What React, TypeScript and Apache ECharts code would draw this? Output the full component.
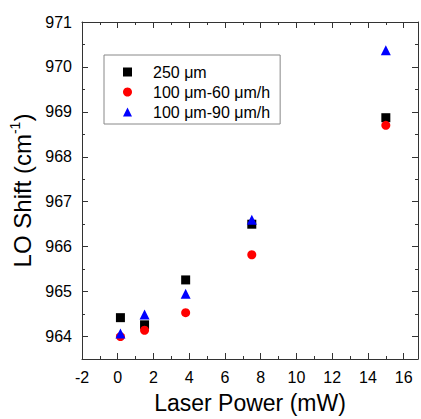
import React, { useEffect, useRef } from "react";
import * as echarts from "echarts";

const powers = [0.15, 1.5, 3.8, 7.5, 15];
const shift250 = [964.42, 964.26, 965.26, 966.5, 968.87];
const shift60 = [964.0, 964.14, 964.53, 965.82, 968.7];
const shift90 = [964.07, 964.49, 964.95, 966.6, 970.37];
const seriesNames = ["250 μm", "100 μm-60 μm/h", "100 μm-90 μm/h"];

const FONT = "Liberation Sans, Arial, sans-serif";

export default function App() {
  const ref = useRef<HTMLDivElement>(null);
  useEffect(() => {
    if (!ref.current) return;
    const chart = echarts.init(ref.current, null, { renderer: "svg" });
    const axisLine = { show: true, onZero: false, lineStyle: { color: "#333", width: 1 } };
    const intLabel = (v: number) => (Math.abs(v - Math.round(v)) < 1e-6 ? String(Math.round(v)) : "");
    const xCommon = {
      type: "value",
      min: -2,
      max: 16.8,
      interval: 2,
      axisLine,
      splitLine: { show: false },
      axisTick: { show: true, inside: true, length: 6, lineStyle: { color: "#333" } },
      minorTick: { show: true, splitNumber: 2, length: 3, lineStyle: { color: "#333" } },
    };
    const yCommon = {
      type: "value",
      min: 963.5,
      max: 971,
      splitNumber: 7,
      scale: true,
      axisLine,
      splitLine: { show: false },
      axisTick: { show: true, inside: true, length: 6, lineStyle: { color: "#333" } },
      minorTick: { show: true, splitNumber: 2, length: 3, lineStyle: { color: "#333" } },
    };
    const mk = (name: string, data: number[], symbol: string, size: number, color: string) => ({
      name,
      type: "scatter",
      symbol,
      symbolSize: size,
      itemStyle: { color, opacity: 1 },
      data: powers.map((p, i) => [p, data[i]]),
    });
    chart.setOption({
      animation: false,
      grid: { left: 82, top: 22, right: 1, bottom: 55 },
      legend: {
        orient: "vertical",
        left: 104,
        top: 55,
        padding: [7, 10, 2, 19],
        itemWidth: 9,
        itemHeight: 9,
        itemGap: 0,
        borderColor: "#888",
        borderWidth: 1,
        formatter: (n: string) => "{a|" + n + "}",
        textStyle: {
          fontFamily: FONT,
          fontSize: 16,
          color: "#000",
          lineHeight: 20,
          rich: { a: { fontFamily: FONT, fontSize: 16, color: "#000", lineHeight: 20, padding: [0, 0, 0, 16] } },
        },
        data: seriesNames,
      },
      xAxis: [
        {
          ...xCommon,
          position: "bottom",
          name: "Laser Power (mW)",
          nameLocation: "middle",
          nameGap: 32,
          nameTextStyle: { fontFamily: FONT, fontSize: 23, color: "#000" },
          axisLabel: { fontFamily: FONT, fontSize: 16, color: "#000", margin: 10, formatter: intLabel },
        },
        { ...xCommon, position: "top", axisLabel: { show: false } },
      ],
      yAxis: [
        {
          ...yCommon,
          position: "left",
          name: "{t|LO Shift (cm}{s|-1}{t|)}",
          nameLocation: "middle",
          nameRotate: 90,
          nameGap: 42,
          nameTextStyle: {
            fontFamily: FONT,
            color: "#000",
            rich: {
              t: { fontFamily: FONT, fontSize: 24, color: "#000", lineHeight: 28 },
              s: { fontFamily: FONT, fontSize: 14, color: "#000", lineHeight: 28, verticalAlign: "top" },
            },
          },
          axisLabel: { fontFamily: FONT, fontSize: 16, color: "#000", margin: 10, formatter: intLabel },
        },
        { ...yCommon, position: "right", axisLabel: { show: false } },
      ],
      series: [
        mk(seriesNames[0], shift250, "rect", 9, "#000000"),
        mk(seriesNames[1], shift60, "circle", 9, "#ff0000"),
        mk(seriesNames[2], shift90, "triangle", 10, "#0000ff"),
      ],
    });
    return () => chart.dispose();
  }, []);
  return <div ref={ref} style={{ width: 421, height: 419, position: "absolute", left: 0, top: 0 }} />;
}
